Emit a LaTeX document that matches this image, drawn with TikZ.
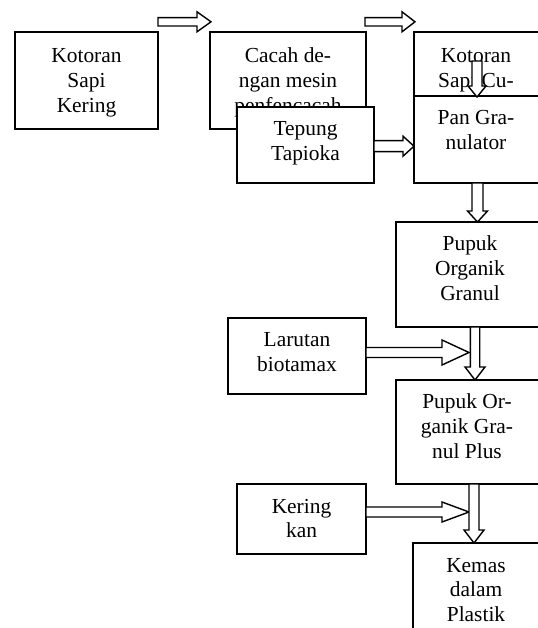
\documentclass[tikz,border=0pt]{standalone}
\usepackage{fontspec}
\setmainfont{Liberation Serif}
\tikzset{
  box/.style={draw=black, line width=1.4bp, fill=white, rectangle},
  txt/.style={anchor=north, inner sep=0pt, align=center, font=\fontsize{21.5}{24.8}\selectfont},
  arr/.style={draw=black, line width=1.4bp, fill=white, line join=miter},
}
% horizontal block arrow: x1, head start, tip, yc, shaft half, head half
\newcommand{\HArr}[6]{\draw[arr] (#1,#4-#5) -- (#2,#4-#5) -- (#2,#4-#6) -- (#3,#4) -- (#2,#4+#6) -- (#2,#4+#5) -- (#1,#4+#5) -- cycle;}
% vertical block arrow: y1, head start, tip, xc, shaft half, head half
\newcommand{\VArr}[6]{\draw[arr] (#4-#5,#1) -- (#4-#5,#2) -- (#4-#6,#2) -- (#4,#3) -- (#4+#6,#2) -- (#4+#5,#2) -- (#4+#5,#1) -- cycle;}
\begin{document}
\begin{tikzpicture}[x=1bp,y=-1bp]
\useasboundingbox (0,0) rectangle (538,628);
\clip (0,0) rectangle (538,628);
\fill[white] (0,0) rectangle (538,628);

% Kotoran Sapi Kering
\draw[box] (15,32) rectangle (158,129);
\node[txt] (t1) at (86.5,45.5) {\strut Kotoran\\Sapi\\Kering};

% Cacah dengan mesin
\draw[box] (210,32) rectangle (366,129);
\node[txt] (t2) at (288,45.5) {\strut Cacah de-\\ngan mesin\\penfencacah};

% Kotoran Sapi Cu-
\draw[box] (414,32) rectangle (560,96);
\node[txt] (t3) at (476,45.5) {\strut Kotoran\\Sapi Cu-};

% Pan Granulator
\draw[box] (414,96) rectangle (560,183);
\node[txt] (t4) at (476,107.5) {\strut Pan Gra-\\nulator};

\VArr{61}{86}{97}{477}{5}{9}

% Tepung Tapioka
\draw[box] (237,107) rectangle (374,183);
\node[txt] (t5) at (305.5,118.5) {\strut Tepung\\Tapioka};

% top arrows
\HArr{158}{197}{211}{21.8}{4.2}{10}
\HArr{365}{402}{415}{21.8}{4.2}{10}

% Tepung -> Pan
\HArr{374}{403}{414}{146.2}{5.5}{10}

% Pupuk Organik Granul
\draw[box] (396,222) rectangle (560,327);
\node[txt] (t6) at (470,233.5) {\strut Pupuk\\Organik\\Granul};
\VArr{183}{211}{222}{477.5}{5.5}{10}

% Larutan biotamax
\draw[box] (228,318) rectangle (366,394);
\node[txt] (t7) at (297,329.5) {\strut Larutan\\biotamax};

% Pupuk Organik Granul Plus
\draw[box] (396,380) rectangle (560,484);
\node[txt] (t8) at (467,391.5) {\strut Pupuk Or-\\ganik Gra-\\nul Plus};

\HArr{366}{442}{469}{352.5}{5}{12.5}
\VArr{327}{367}{380}{475}{4.7}{10}

% Kering kan
\draw[box] (237,484) rectangle (366,554);
\node[txt] (t9) at (301.5,495.5) {\strut Kering\\kan};

% Kemas dalam Plastik
\draw[box] (413,543) rectangle (560,700);
\node[txt] (t10) at (476,554.5) {\strut Kemas\\dalam\\Plastik};

\HArr{366}{442}{469}{512}{5}{10}
\VArr{484}{530}{543}{474}{5}{10}
\end{tikzpicture}
\end{document}
